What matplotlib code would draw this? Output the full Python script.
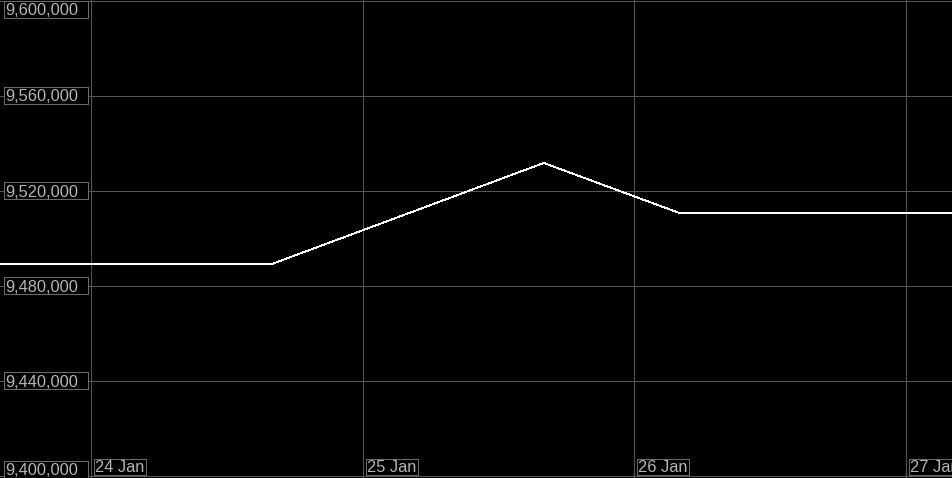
import matplotlib
matplotlib.use('Agg')
import matplotlib.pyplot as plt
import matplotlib.dates as mdates
from matplotlib.patches import Rectangle
from matplotlib.transforms import IdentityTransform
from datetime import datetime

# series
times = [datetime(2024, 1, 23, 16), datetime(2024, 1, 24, 16), datetime(2024, 1, 25, 16),
         datetime(2024, 1, 26, 4), datetime(2024, 1, 27, 4)]
values = [9489300, 9489300, 9531800, 9510700, 9510700]

y_ticks = [9400000, 9440000, 9480000, 9520000, 9560000, 9600000]
x_ticks = [datetime(2024, 1, 24), datetime(2024, 1, 25), datetime(2024, 1, 26), datetime(2024, 1, 27)]
x_tick_labels = ['24 Jan', '25 Jan', '26 Jan', '27 Jan']

W, H = 953, 478
fig = plt.figure(figsize=(W / 100, H / 100), dpi=100, facecolor='black')
ax = fig.add_axes([0, 0, 1, 1], facecolor='black')

grid_col = '#555555'
text_col = '#b4b4b4'
box_col = '#6a6a6a'

ax.plot(mdates.date2num(times), values, color='white', lw=0.6, antialiased=False, zorder=3)

x0 = mdates.date2num(x_ticks[0])
ax.set_xlim(x0 - 0.335, x0 + 3.173)
ax.set_ylim(9399158, 9600421)

ax.set_xticks(mdates.date2num(x_ticks))
ax.set_yticks(y_ticks)
ax.grid(True, color=grid_col, lw=0.72, antialiased=False)
ax.tick_params(length=0, labelleft=False, labelbottom=False)
for s in ax.spines.values():
    s.set_visible(False)

font = dict(family=['Liberation Sans', 'DejaVu Sans'], size=11.8, color=text_col)
ident = IdentityTransform()

# y labels: fixed width boxes centred on grid lines, kept inside the figure
for v in y_ticks:
    yd = ax.transData.transform((x0, v))[1]
    bot = yd - 8.5
    bot = max(bot, 0)
    bot = min(bot, H - 18)
    ax.add_patch(Rectangle((3.5, bot + 0.5), 84, 17, transform=ident, facecolor='black',
                           edgecolor=box_col, lw=0.72, antialiased=False, clip_on=False, zorder=4))
    ax.text(5, bot + 3, f'{v:,}', transform=ident, ha='left', va='baseline', zorder=5, **font)

# date labels
for d, lab in zip(x_ticks, x_tick_labels):
    xd = ax.transData.transform((mdates.date2num(d), y_ticks[0]))[0]
    ax.add_patch(Rectangle((round(xd) + 2.5, 3.5), 52, 16, transform=ident, facecolor='black',
                           edgecolor=box_col, lw=0.72, antialiased=False, clip_on=False, zorder=4))
    ax.text(round(xd) + 4, 6, lab, transform=ident, ha='left', va='baseline', zorder=5, **font)

fig.savefig('out.png', dpi=100, facecolor='black')
